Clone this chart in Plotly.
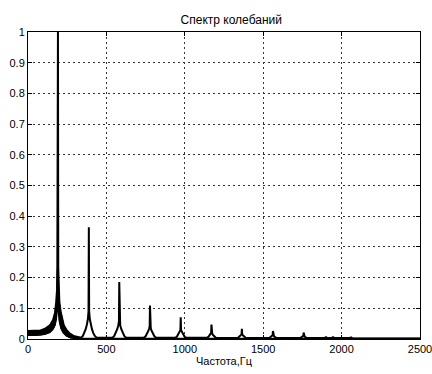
import plotly.graph_objects as go

# ---- data ----
# upper envelope of the spectrum (Hz, normalized amplitude)
upper_freq = [0, 40, 80, 110, 140, 160, 172, 180, 185, 187, 189, 191, 193, 196, 200, 208, 215, 228, 245, 265, 290, 320,
              338, 350, 360, 368, 376, 382, 386, 388, 390, 394, 400, 408, 416, 426, 438, 460,
              539, 550, 560, 569, 576, 580, 582, 584, 588, 595, 604, 614, 625,
              738, 750, 760, 768, 773, 776, 778, 780, 783, 788, 796, 806, 818,
              939, 950, 959, 966, 970, 972, 974, 976, 978, 982, 989, 998, 1009,
              1142, 1152, 1160, 1165, 1168, 1170, 1172, 1175, 1180, 1188, 1198,
              1338, 1348, 1356, 1362, 1364, 1366, 1372, 1380, 1390,
              1538, 1548, 1555, 1560, 1562, 1564, 1569, 1576, 1586,
              1736, 1745, 1752, 1756, 1758, 1760, 1764, 1771, 1780,
              1890, 1900, 1910, 1935, 1945, 1955, 2050, 2060, 2070, 2500]
upper_amp = [0.026, 0.026, 0.028, 0.034, 0.045, 0.062, 0.085, 0.12, 0.16, 0.23, 1.0, 1.0, 0.23, 0.16, 0.12, 0.09, 0.07, 0.045, 0.03, 0.018, 0.01, 0.006,
             0.004, 0.01, 0.02, 0.032, 0.048, 0.065, 0.09, 0.364, 0.09, 0.065, 0.048, 0.032, 0.02, 0.01, 0.004, 0.004,
             0.004, 0.01, 0.02, 0.032, 0.045, 0.058, 0.186, 0.058, 0.045, 0.032, 0.02, 0.01, 0.004,
             0.004, 0.009, 0.017, 0.027, 0.035, 0.042, 0.109, 0.042, 0.035, 0.027, 0.017, 0.009, 0.004,
             0.004, 0.008, 0.015, 0.022, 0.027, 0.031, 0.071, 0.031, 0.027, 0.022, 0.015, 0.008, 0.004,
             0.004, 0.008, 0.013, 0.017, 0.02, 0.047, 0.02, 0.017, 0.013, 0.008, 0.004,
             0.003, 0.007, 0.011, 0.015, 0.033, 0.015, 0.011, 0.007, 0.003,
             0.003, 0.006, 0.009, 0.012, 0.026, 0.012, 0.009, 0.006, 0.003,
             0.003, 0.005, 0.008, 0.01, 0.021, 0.01, 0.008, 0.005, 0.003,
             0.003, 0.006, 0.003, 0.003, 0.006, 0.003, 0.003, 0.005, 0.002, 0.002]

# lower envelope of the spectrum
lower_freq = [0, 50, 80, 110, 140, 160, 172, 180, 185, 195, 200, 210, 225, 245, 270, 300, 500, 1000, 1500, 2000, 2500]
lower_amp = [0.012, 0.012, 0.013, 0.016, 0.022, 0.032, 0.045, 0.065, 0.09, 0.09, 0.06, 0.035, 0.02, 0.01, 0.004, 0.002, 0.002, 0.002, 0.002, 0.002, 0.002]

# dense (filled) band around the fundamental
band_up_freq = [0, 40, 80, 110, 140, 160, 172, 180, 185, 187, 193, 196, 200, 208, 215, 228, 245, 265, 290, 320]
band_up_amp = [0.026, 0.026, 0.028, 0.034, 0.045, 0.062, 0.085, 0.12, 0.16, 0.23, 0.23, 0.16, 0.12, 0.09, 0.07, 0.045, 0.03, 0.018, 0.01, 0.006]
band_lo_freq = [0, 50, 80, 110, 140, 160, 172, 180, 185, 195, 200, 210, 225, 245, 270, 300, 320]
band_lo_amp = [0.012, 0.012, 0.013, 0.016, 0.022, 0.032, 0.045, 0.065, 0.09, 0.09, 0.06, 0.035, 0.02, 0.01, 0.004, 0.002, 0.002]

x_ticks = [0, 500, 1000, 1500, 2000, 2500]
y_ticks = [0, 0.1, 0.2, 0.3, 0.4, 0.5, 0.6, 0.7, 0.8, 0.9, 1]
y_labels = ["0", "0.1", "0.2", "0.3", "0.4", "0.5", "0.6", "0.7", "0.8", "0.9", "1"]

fig = go.Figure()
# filled band polygon
fig.add_trace(go.Scatter(
    x=band_up_freq + band_lo_freq[::-1], y=band_up_amp + band_lo_amp[::-1],
    fill="toself", fillcolor="black", mode="lines", line=dict(color="black", width=1),
    hoverinfo="skip", showlegend=False))
fig.add_trace(go.Scatter(x=lower_freq, y=lower_amp, mode="lines",
                         line=dict(color="black", width=1.5), showlegend=False))
fig.add_trace(go.Scatter(x=upper_freq, y=upper_amp, mode="lines",
                         line=dict(color="black", width=2), showlegend=False))

font_family = "Liberation Sans, Arial, sans-serif"
axis_common = dict(showline=True, linecolor="black", linewidth=1, mirror="ticks",
                   ticks="inside", ticklen=4, tickcolor="black", automargin=False,
                   ticklabeloverflow="allow",
                   showgrid=True, gridcolor="#333333", gridwidth=1, griddash="2px,3px",
                   zeroline=False, tickfont=dict(family=font_family, size=11, color="black"))

fig.update_layout(
    width=432, height=374,
    margin=dict(l=28, r=12, t=32, b=35),
    paper_bgcolor="white", plot_bgcolor="white",
    title=dict(text="Спектр колебаний", x=(28 + 420) / 2 / 432, xanchor="center", xref="paper",
               y=1 - 20 / 374, yanchor="middle",
               font=dict(family=font_family, size=12, color="black")),
    xaxis=dict(range=[0, 2500], tickvals=x_ticks, **axis_common,
               title=dict(text="Частота,Гц", standoff=2,
                          font=dict(family=font_family, size=11, color="black"))),
    yaxis=dict(range=[0, 1], tickvals=y_ticks, ticktext=y_labels, **axis_common),
)

fig.write_html("out.html", config={"displayModeBar": False},
               post_script="document.body.style.margin='0';document.body.style.overflow='hidden';")
